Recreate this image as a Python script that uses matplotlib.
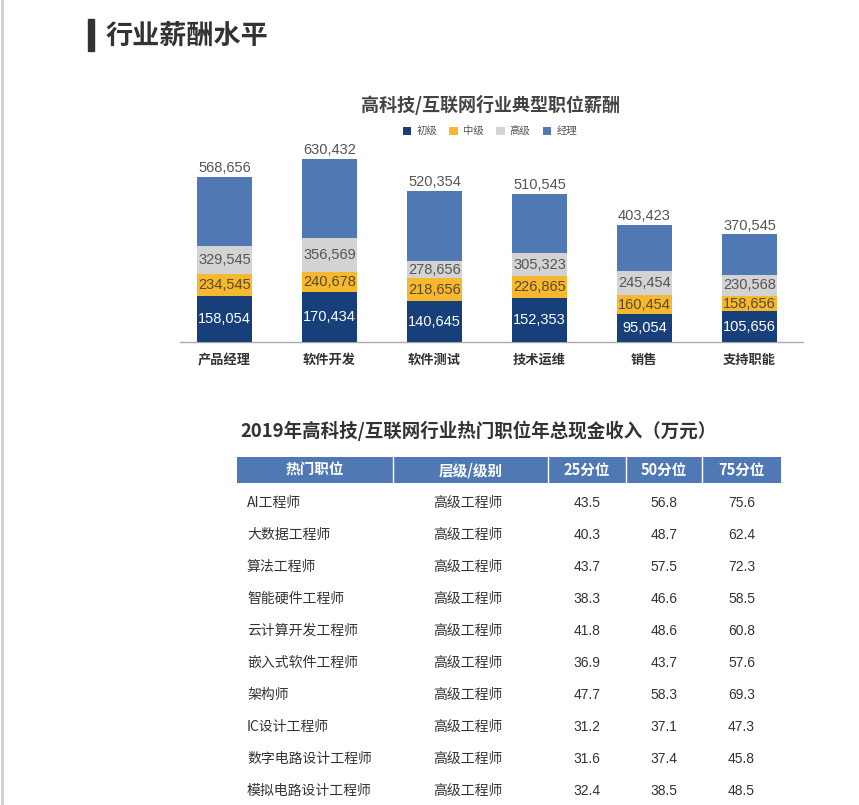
import matplotlib
matplotlib.use("Agg")
import matplotlib.pyplot as plt
from matplotlib.patches import Rectangle, Patch
import numpy as np

plt.rcParams['font.family'] = ['Noto Sans CJK SC', 'DejaVu Sans']

# ---------------- data ----------------
categories = ["产品经理", "软件开发", "软件测试", "技术运维", "销售", "支持职能"]
levels = ["初级", "中级", "高级", "经理"]
junior = [158054, 170434, 140645, 152353, 95054, 105656]
middle = [234545, 240678, 218656, 226865, 160454, 158656]
senior = [329545, 356569, 278656, 305323, 245454, 230568]
manager = [568656, 630432, 520354, 510545, 403423, 370545]

table_title = "2019年高科技/互联网行业热门职位年总现金收入（万元）"
table_header = ["热门职位", "层级/级别", "25分位", "50分位", "75分位"]
jobs = ["AI工程师", "大数据工程师", "算法工程师", "智能硬件工程师", "云计算开发工程师",
        "嵌入式软件工程师", "架构师", "IC设计工程师", "数字电路设计工程师", "模拟电路设计工程师"]
job_level = ["高级工程师"] * 10
p25 = [43.5, 40.3, 43.7, 38.3, 41.8, 36.9, 47.7, 31.2, 31.6, 32.4]
p50 = [56.8, 48.7, 57.5, 46.6, 48.6, 43.7, 58.3, 37.1, 37.4, 38.5]
p75 = [75.6, 62.4, 72.3, 58.5, 60.8, 57.6, 69.3, 47.3, 45.8, 48.5]

colors = ["#173f7a", "#f6b82e", "#d3d3d3", "#4f78b4"]
label_colors = ["white", "#5b4a25", "#555555", "#555555"]
num_font = ["Liberation Sans", "DejaVu Sans"]

W, H = 859, 805
fig = plt.figure(figsize=(W / 100, H / 100), dpi=100)
fig.patch.set_facecolor("white")

# overlay axes in pixel coordinates
ov = fig.add_axes([0, 0, 1, 1])
ov.set_xlim(0, W)
ov.set_ylim(H, 0)
ov.axis("off")

# page border line at left
ov.plot([1.5, 1.5], [0, H], color="#d0d0d0", lw=2)

# heading
ov.add_patch(Rectangle((88, 19), 6, 32, color="#333333"))
ov.text(106, 36, "行业薪酬水平", fontsize=19.5, fontweight="bold", color="#333333",
        va="center", ha="left")

# ---------------- bar chart ----------------
def fx(px):
    return px / W

def fy(py):
    return 1 - py / H

ax_left, ax_right, ax_bottom, ax_top = 180, 803, 342, 140
ax = fig.add_axes([fx(ax_left), fy(ax_bottom), fx(ax_right - ax_left), (ax_bottom - ax_top) / H])
x = np.arange(len(categories))
ax.set_xlim(-0.424, len(categories) - 1 + 0.51)
ax.set_ylim(0, (ax_bottom - ax_top) / 0.2905 * 1000)

series = [junior, middle, senior, manager]
bw = 0.524
# overlaid bars from zero, largest drawn first so every level stays visible
for i in [3, 2, 1, 0]:
    ax.bar(x, series[i], width=bw, color=colors[i], zorder=2 + (3 - i))

for j in range(len(categories)):
    prev = 0
    for i in range(4):
        v = series[i][j]
        txt = f"{v:,}"
        if i < 3:
            ax.text(x[j], (prev + v) / 2, txt, ha="center", va="center",
                    fontsize=10.5, color=label_colors[i], zorder=10,
                    family=num_font)
        else:
            ax.text(x[j], v + 6000, txt, ha="center", va="bottom",
                    fontsize=10.5, color=label_colors[i], zorder=10,
                    family=num_font)
        prev = v

for s in ["top", "right", "left"]:
    ax.spines[s].set_visible(False)
ax.spines["bottom"].set_color("#aaaaaa")
ax.spines["bottom"].set_linewidth(1.0)
ax.set_yticks([])
ax.set_xticks(x)
ax.set_xticklabels(categories, fontsize=9.5, fontweight="bold", color="#333333")
ax.tick_params(axis="x", length=0, pad=8)
ax.set_facecolor("none")

# chart title and legend
ov.text(490, 105, "高科技/互联网行业典型职位薪酬", fontsize=13, fontweight="bold",
        color="#444444", ha="center", va="center")
handles = [Patch(facecolor=c, edgecolor="none") for c in colors]
fig.legend(handles, levels, loc="center", bbox_to_anchor=(fx(490), fy(131)), ncol=4,
           frameon=False, fontsize=7.5, handlelength=0.8, handleheight=0.8,
           handletextpad=0.5, columnspacing=1.2, labelcolor="#555555")

# ---------------- table ----------------
ov.text(240, 431, table_title, fontsize=13.3, fontweight="bold", color="#333333",
        ha="left", va="center")

col_edges = [237, 393, 548, 626, 702, 781]
hdr_top, hdr_bot = 457, 483
hdr_color = "#4f78b4"
ov.add_patch(Rectangle((col_edges[0], hdr_top), col_edges[-1] - col_edges[0],
                       hdr_bot - hdr_top, color=hdr_color, lw=0))
for e in col_edges[1:-1]:
    ov.plot([e, e], [hdr_top, hdr_bot], color="white", lw=1)
for k, h in enumerate(table_header):
    cx = (col_edges[k] + col_edges[k + 1]) / 2
    ov.text(cx, (hdr_top + hdr_bot) / 2, h, color="white", fontsize=10.5,
            fontweight="bold", ha="center", va="center")

row_y0, row_dy = 503, 32
for r in range(len(jobs)):
    yy = row_y0 + r * row_dy
    ov.text(247, yy, jobs[r], fontsize=10, color="#333333", ha="left", va="center")
    ov.text(433, yy, job_level[r], fontsize=10, color="#333333", ha="left", va="center")
    for k, vals in enumerate([p25, p50, p75]):
        cx = (col_edges[k + 2] + col_edges[k + 3]) / 2
        ov.text(cx, yy, f"{vals[r]:.1f}", fontsize=10, color="#333333",
                ha="center", va="center", family=num_font)

fig.savefig("out.png", dpi=100)
